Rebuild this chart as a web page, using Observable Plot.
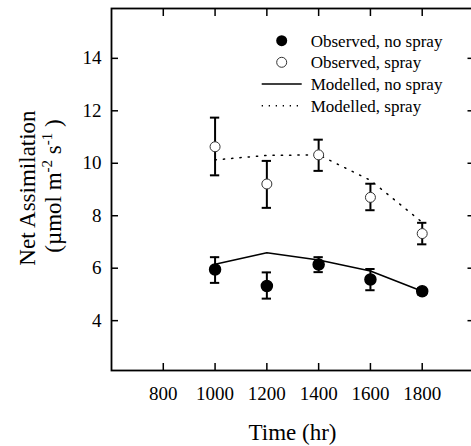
<!DOCTYPE html>
<html><head><meta charset="utf-8">
<script src="https://cdn.jsdelivr.net/npm/d3@7"></script>
<script src="https://cdn.jsdelivr.net/npm/@observablehq/plot@0.6"></script>
<style>body{margin:0;background:#fff;overflow:hidden}</style>
</head><body><div id="chart"></div>
<script>
const times = [1000, 1200, 1400, 1600, 1800];
const obsNoSpray = [5.95, 5.32, 6.14, 5.57, 5.12];
const obsNoSprayLo = [5.44, 4.84, 5.85, 5.16, 5.00];
const obsNoSprayHi = [6.42, 5.84, 6.42, 5.97, 5.24];
const obsSpray = [10.63, 9.21, 10.32, 8.70, 7.32];
const obsSprayLo = [9.54, 8.30, 9.71, 8.21, 6.91];
const obsSprayHi = [11.74, 10.09, 10.90, 9.22, 7.73];
const modNoSpray = [6.15, 6.59, 6.31, 5.89, 5.12];
const modSpray = [10.13, 10.30, 10.32, 9.35, 7.75];
const xTicks = [800, 1000, 1200, 1400, 1600, 1800];
const yTicks = [4, 6, 8, 10, 12, 14];
const legendLabels = ["Observed, no spray", "Observed, spray", "Modelled, no spray", "Modelled, spray"];

const FONT = "Liberation Serif";
const obsA = times.map((t, i) => ({t, v: obsNoSpray[i], lo: obsNoSprayLo[i], hi: obsNoSprayHi[i]}));
const obsB = times.map((t, i) => ({t, v: obsSpray[i], lo: obsSprayLo[i], hi: obsSprayHi[i]}));
const obsAll = obsA.concat(obsB);
const modA = times.map((t, i) => ({t, v: modNoSpray[i]}));
const modB = times.map((t, i) => ({t, v: modSpray[i]}));
const cap = 18;

const plot = Plot.plot({
  width: 471, height: 446,
  marginLeft: 111, marginRight: -2.5, marginTop: 8, marginBottom: 76,
  style: {fontFamily: FONT, fontSize: "19px", color: "#000", background: "#fff", overflow: "hidden"},
  x: {domain: [600, 2000]},
  y: {domain: [2.1, 15.9]},
  marks: [
    Plot.axisX(xTicks, {anchor: "bottom", tickSize: -7, tickPadding: 23, label: null, tickFormat: d => String(d), strokeWidth: 1.5, fontSize: 19}),
    Plot.axisX(xTicks, {anchor: "top", tickSize: -7, label: null, tickFormat: () => "", strokeWidth: 1.5}),
    Plot.axisY(yTicks, {anchor: "left", tickSize: -7, tickPadding: 17, label: null, tickFormat: d => String(d), strokeWidth: 1.5, fontSize: 19}),
    Plot.axisY(yTicks, {anchor: "right", tickSize: -7, label: null, tickFormat: () => "", strokeWidth: 1.5}),
    Plot.frame({stroke: "#000", strokeWidth: 1.8}),
    Plot.ruleX(obsAll, {x: "t", y1: "lo", y2: "hi", stroke: "#000", strokeWidth: 2}),
    Plot.ruleY(obsAll, {y: "lo", x1: d => d.t - cap, x2: d => d.t + cap, stroke: "#000", strokeWidth: 2}),
    Plot.ruleY(obsAll, {y: "hi", x1: d => d.t - cap, x2: d => d.t + cap, stroke: "#000", strokeWidth: 2}),
    Plot.line(modA, {x: "t", y: "v", stroke: "#000", strokeWidth: 1.6}),
    Plot.line(modB, {x: "t", y: "v", stroke: "#000", strokeWidth: 1.5, strokeDasharray: "1.3 7"}),
    Plot.dot(obsA, {x: "t", y: "v", r: 5.5, fill: "#000", stroke: "#000"}),
    Plot.dot(obsB, {x: "t", y: "v", r: 5, fill: "#fff", stroke: "#333", strokeWidth: 1})
  ]
});
plot.setAttribute("font-family", FONT);
plot.setAttribute("font-size", 19);
// explicit font on each tick label
plot.querySelectorAll("text").forEach(n => {
  n.setAttribute("font-family", FONT);
  n.setAttribute("font-size", 19);
  n.style.fontFamily = FONT;
  n.style.fontSize = "19px";
});
document.getElementById("chart").appendChild(plot);

const svg = d3.select(plot);
function txt(parent, size, anchor) {
  return parent.append("text")
    .attr("font-family", FONT).attr("font-size", size).attr("text-anchor", anchor).attr("fill", "#000")
    .style("font-family", FONT).style("font-size", size + "px");
}
// axis titles
txt(svg, 23, "middle").attr("x", 292.5).attr("y", 439.5).text("Time (hr)");
txt(svg, 23, "middle").attr("transform", "translate(35,188) rotate(-90)").text("Net Assimilation");
const t2 = txt(svg, 23, "middle").attr("transform", "translate(61,186) rotate(-90)");
t2.append("tspan").text("(\u00b5mol m");
t2.append("tspan").attr("dy", -9).attr("font-size", 15).style("font-size", "15px").text("-2");
t2.append("tspan").attr("dy", 9).text(" s");
t2.append("tspan").attr("dy", -9).attr("font-size", 15).style("font-size", "15px").text("-1");
t2.append("tspan").attr("dy", 9).text(" )");

// legend
const rows = [40.7, 62.3, 84, 105.7];
svg.append("circle").attr("cx", 281.7).attr("cy", rows[0]).attr("r", 5.5).attr("fill", "#000");
svg.append("circle").attr("cx", 281.7).attr("cy", rows[1]).attr("r", 5).attr("fill", "#fff").attr("stroke", "#333");
svg.append("line").attr("x1", 261.7).attr("x2", 301.7).attr("y1", rows[2]).attr("y2", rows[2]).attr("stroke", "#000").attr("stroke-width", 1.6);
svg.append("line").attr("x1", 261.7).attr("x2", 301.7).attr("y1", rows[3]).attr("y2", rows[3]).attr("stroke", "#000").attr("stroke-width", 1.5).attr("stroke-dasharray", "1.3 5.7");
legendLabels.forEach((s, i) => {
  txt(svg, 17, "start").attr("x", 310.7).attr("y", rows[i] + 6).text(s);
});
</script>
</body></html>
